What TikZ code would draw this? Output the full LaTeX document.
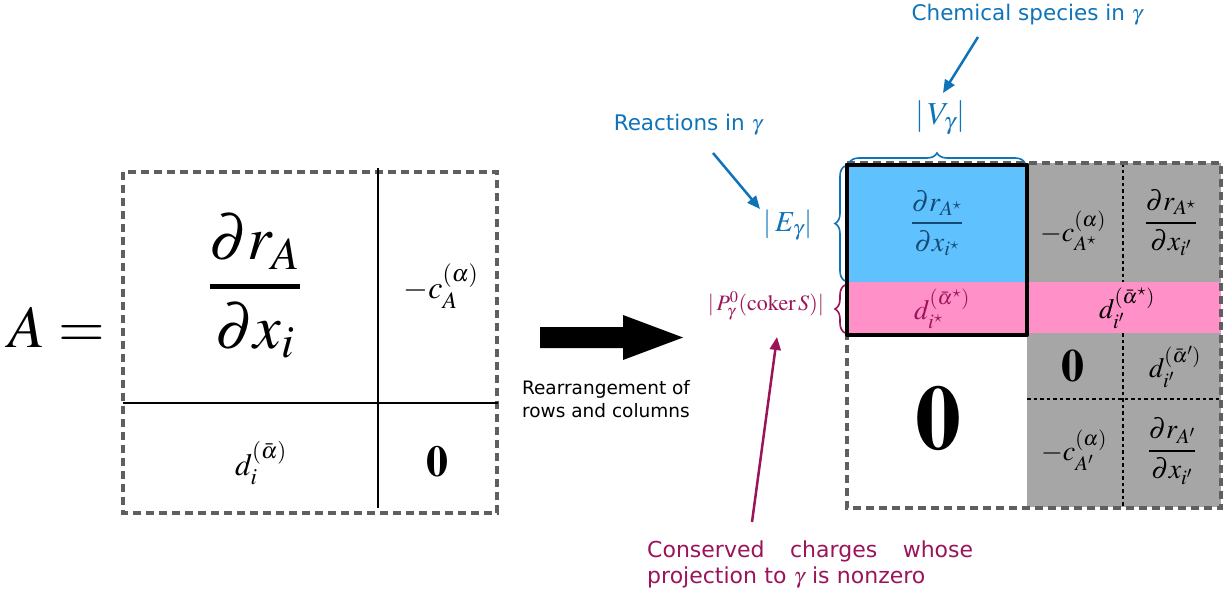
\documentclass[tikz,border=0pt]{standalone}
\usepackage{amsmath}
\usepackage{mathptmx}
\usepackage[no-math]{fontspec}
\setsansfont{DejaVu Sans}
\usetikzlibrary{decorations.pathreplacing,arrows.meta}
\definecolor{blueFill}{RGB}{95,194,255}
\definecolor{pinkFill}{RGB}{255,145,200}
\definecolor{grayFill}{RGB}{166,166,166}
\definecolor{blueText}{RGB}{15,115,185}
\definecolor{magText}{RGB}{155,20,90}
\definecolor{darkBlueText}{RGB}{20,75,115}
\definecolor{dashGray}{RGB}{95,95,95}
\newcommand{\bfr}[3]{\genfrac{}{}{#1}{0}{#2}{#3}}
\begin{document}
\begin{tikzpicture}[x=1pt,y=-1pt,
  dashbox/.style={draw=dashGray, line width=3.2pt, dash pattern=on 8pt off 5pt},
  dotline/.style={draw=black, line width=2pt, dash pattern=on 3.5pt off 3pt},
  solidline/.style={draw=black, line width=2pt},
  m/.style={inner sep=0pt, font=\fontsize{#1}{#1}\selectfont},
  lab/.style 2 args={inner sep=0pt, font=\sffamily\fontsize{#1}{#2}\selectfont},
  bracedec/.style={decorate, decoration={brace, amplitude=10pt}, line width=1.6pt},
  pointer/.style={line width=2.5pt, -{Triangle[length=13pt, width=11pt]}},
]
\useasboundingbox (0,0) rectangle (1231,599);

% ---------- left matrix ----------
\node[m=60, anchor=base] (Aeq) at (57,347) {$A=$};
\draw[dashbox] (123,172) rectangle (497,513);
\draw[solidline] (378,168) -- (378,508);
\draw[solidline] (123,403) -- (498,403);
\node[m=62] (L11) at (255,286) {$\bfr{4.5pt}{\partial r_A}{\partial x_i}$};
\node[m=32] (L12) at (441,286) {$-c_A^{(\alpha)}$};
\node[m=31] (L21) at (261,463) {$d_i^{(\bar\alpha)}$};
\node[m=44] (L22) at (437,462) {$\mathbf{0}$};

% ---------- big arrow ----------
\fill[black] (540,327) -- (623,327) -- (623,315) -- (683,337.5) -- (623,360) -- (623,348) -- (540,348) -- cycle;
\node[lab={18.5}{23}, align=center] (rearr) at (606,399) {Rearrangement of\\rows and columns};

% ---------- right matrix ----------
\fill[grayFill] (1027,163) rectangle (1221,282);
\fill[grayFill] (1027,333) rectangle (1221,507);
\fill[blueFill] (847,165) rectangle (1027,282);
\fill[pinkFill] (847,282) rectangle (1221,333);
\draw[dotline] (1123,163) -- (1123,282);
\draw[dotline] (1123,333) -- (1123,507);
\draw[dotline] (1027,399) -- (1221,399);
\draw[dashbox] (847,163) rectangle (1221,508);
\draw[line width=4pt, line join=round] (847,165) rectangle (1027,335);

\node[m=28, text=darkBlueText] (R11) at (937,223) {$\bfr{2pt}{\partial r_{A^\star}}{\partial x_{i^\star}}$};
\node[m=28] (R12) at (1073,231) {$-c_{A^\star}^{(\alpha)}$};
\node[m=28] (R13) at (1171,223) {$\bfr{2pt}{\partial r_{A^\star}}{\partial x_{i'}}$};
\node[m=28, text=magText] (R21) at (942,309) {$d_{i^\star}^{(\bar\alpha^\star)}$};
\node[m=28] (R22) at (1127,308) {$d_{i'}^{(\bar\alpha^\star)}$};
\node[m=92] (R31) at (938,418) {$\mathbf{0}$};
\node[m=46] (R32) at (1073,366) {$\mathbf{0}$};
\node[m=28] (R33) at (1175,367) {$d_{i'}^{(\bar\alpha')}$};
\node[m=28] (R42) at (1074,450) {$-c_{A'}^{(\alpha)}$};
\node[m=28] (R43) at (1172,451) {$\bfr{2pt}{\partial r_{A'}}{\partial x_{i'}}$};

% ---------- braces ----------
\draw[bracedec, draw=blueText] (849,163) -- (1025,163);
\draw[bracedec, draw=blueText] (845,281) -- (845,166);
\draw[bracedec, draw=magText] (845,333) -- (845,285);

% ---------- labels ----------
\node[m=32, text=blueText] (V) at (940,118) {$|\,V_\gamma|$};
\node[m=29, text=blueText] (E) at (788,225) {$|\,E_\gamma|$};
\node[m=22, text=magText] (P) at (766,306) {$|\,P^0_\gamma(\mathrm{coker}\,S)|$};

\node[lab={21.5}{26}, text=blueText] (chem) at (1027,15) {Chemical species in $\gamma$};
\node[lab={21.5}{26}, text=blueText] (react) at (688,125) {Reactions in $\gamma$};
\node[lab={22}{26}, text=magText, anchor=north west, text width=326pt, align=left] (cons) at (647,541)
  {Conserved\hfill charges\hfill whose\\projection to $\gamma$ is nonzero};

\coordinate (chemEnd) at (978,37);
\coordinate (chemTip) at (943,93);
\coordinate (reactEnd) at (713,153);
\coordinate (reactTip) at (760,209);
\coordinate (consEnd) at (752,522);
\coordinate (consTip) at (777,337);
\draw[pointer, draw=blueText, fill=blueText] (chemEnd) -- (chemTip);
\draw[pointer, draw=blueText, fill=blueText] (reactEnd) -- (reactTip);
\draw[pointer, draw=magText, fill=magText] (consEnd) -- (consTip);
\end{tikzpicture}
\end{document}
